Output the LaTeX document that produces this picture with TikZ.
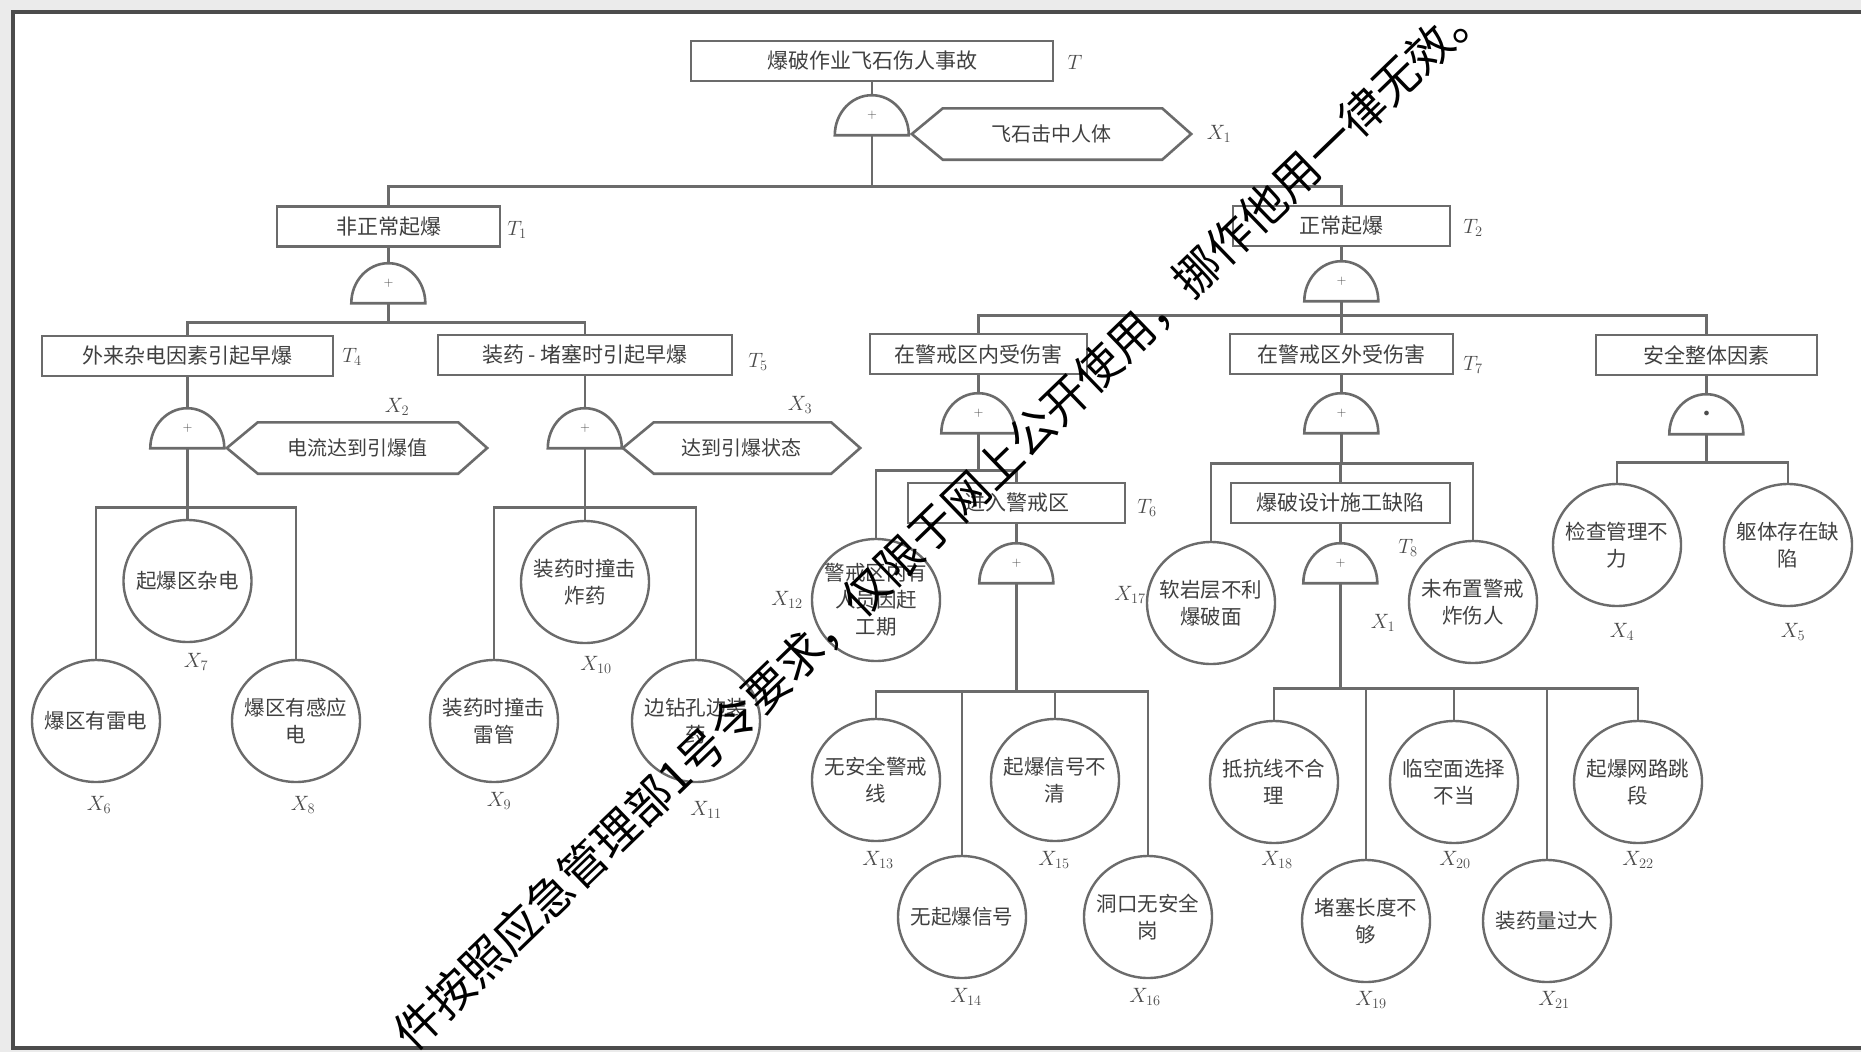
\documentclass[tikz,border=0pt]{standalone}
\usepackage{fontspec}
\newfontfamily\cjk{Noto Sans CJK SC}
\usetikzlibrary{shapes.geometric,calc}
\tikzset{
  ln/.style={draw=black!58, line width=2.6pt},
  box/.style={draw=black!58, line width=2.6pt, rectangle, minimum height=40pt, inner sep=0pt,
    font=\cjk\fontsize{21}{26}\selectfont, text=black!75},
  leaf/.style={ellipse, draw=black!58, line width=2.4pt, minimum width=128pt, minimum height=122pt,
    inner sep=-30pt, align=center, font=\cjk\fontsize{20.5}{27}\selectfont, text=black!75},
  gatenode/.style={minimum width=74pt, minimum height=40pt, inner sep=0pt,
    font=\fontsize{13}{13}\selectfont, text=black!70},
  cond/.style={minimum height=51pt, inner sep=0pt, font=\cjk\fontsize{20}{26}\selectfont, text=black!75},
  lab/.style={font=\fontsize{20}{24}\selectfont, text=black!70},
}
\begin{document}
\begin{tikzpicture}[x=1pt,y=-1pt]
\useasboundingbox (0,0) rectangle (1861,1052);
\fill[black!8] (0,0) rectangle (1861,1052);
\fill[white] (13,12) rectangle (1861,1048);
\draw[black!70,line width=4pt] (1861,12) -- (13,12) -- (13,1048) -- (1861,1048);

% boxes
\node[box,minimum width=362pt] (T)  at (872,61)   {爆破作业飞石伤人事故};
\node[box,minimum width=223pt] (T1) at (388.5,226.5) {非正常起爆};
\node[box,minimum width=217pt] (T2) at (1341.5,226) {正常起爆};
\node[box,minimum width=291pt] (T4) at (187.5,356) {外来杂电因素引起早爆};
\node[box,minimum width=294pt] (T5) at (585,355)  {装药 - 堵塞时引起早爆};
\node[box,minimum width=217pt] (T6) at (978.5,354) {在警戒区内受伤害};
\node[box,minimum width=223pt] (T7) at (1341.5,354) {在警戒区外受伤害};
\node[box,minimum width=221pt] (T3) at (1706.5,355) {安全整体因素};
\node[box,minimum width=217pt] (TE) at (1016.5,503) {进入警戒区};
\node[box,minimum width=219pt] (T8) at (1340.5,503) {爆破设计施工缺陷};

% gates
\node[gatenode] (g0) at (872,115) {+};
\node[gatenode] (g1) at (388.5,283) {+};
\node[gatenode] (g2) at (1341.5,281) {+};
\node[gatenode] (g4) at (187.5,428) {+};
\node[gatenode] (g5) at (585,428) {+};
\node[gatenode] (g6) at (978.5,413) {+};
\node[gatenode] (g7) at (1341.5,413) {+};
\node[gatenode] (g3) at (1706.5,414) {$\bullet$};
\node[gatenode] (gE) at (1016.5,563) {+};
\node[gatenode] (g8) at (1340.5,563) {+};
\foreach \g in {g0,g1,g2,g4,g5,g6,g7,g3,gE,g8}
  \draw[ln] (\g.south west) arc[start angle=180,end angle=360,x radius=37,y radius=40] -- cycle;

% conditions
\node[cond,minimum width=279pt] (c1) at (1051.5,134) {飞石击中人体};
\node[cond,minimum width=260pt] (c2) at (357,448) {电流达到引爆值};
\node[cond,minimum width=237pt] (c3) at (741.5,448) {达到引爆状态};
\foreach \c in {c1,c2,c3}
  \draw[ln] (\c.west) -- ([xshift=31pt]\c.north west) -- ([xshift=-29pt]\c.north east) -- (\c.east)
    -- ([xshift=-29pt]\c.south east) -- ([xshift=31pt]\c.south west) -- cycle;

% leaves
\node[leaf] (X7)  at (187.5,581) {起爆区杂电};
\node[leaf] (X6)  at (96,721)  {爆区有雷电};
\node[leaf] (X8)  at (296,721) {爆区有感应\\电};
\node[leaf] (X10) at (585,582) {装药时撞击\\炸药};
\node[leaf] (X9)  at (494,721) {装药时撞击\\雷管};
\node[leaf] (X11) at (696,721) {边钻孔边装\\药};
\node[leaf] (X12) at (876,600) {警戒区内有\\人员因赶\\工期};
\node[leaf] (X13) at (876,780) {无安全警戒\\线};
\node[leaf] (X14) at (962,917) {无起爆信号};
\node[leaf] (X15) at (1055,780) {起爆信号不\\清};
\node[leaf] (X16) at (1148,917) {洞口无安全\\岗};
\node[leaf] (X17) at (1211,603) {软岩层不利\\爆破面};
\node[leaf] (Xr)  at (1473,602) {未布置警戒\\炸伤人};
\node[leaf] (X18) at (1274,782) {抵抗线不合\\理};
\node[leaf] (X19) at (1366,921) {堵塞长度不\\够};
\node[leaf] (X20) at (1454,782) {临空面选择\\不当};
\node[leaf] (X21) at (1547,921) {装药量过大};
\node[leaf] (X22) at (1638,782) {起爆网路跳\\段};
\node[leaf] (X4)  at (1617,545) {检查管理不\\力};
\node[leaf] (X5)  at (1788,545) {躯体存在缺\\陷};

% connectors
\draw[ln] (T.south) -- (g0.north);
\draw[ln] (g0.south) -- ++(0,51) -| (T1.north);
\draw[ln] (g0.south) -- ++(0,51) -| (T2.north);
\draw[ln] (T1.south) -- (g1.north);
\draw[ln] (T2.south) -- (g2.north);
\draw[ln] (g1.south) -- ++(0,19) -| (T4.north);
\draw[ln] (g1.south) -- ++(0,19) -| (T5.north);
\draw[ln] (g2.south) -- ++(0,14) -| (T6.north);
\draw[ln] (g2.south) -- ++(0,14) -| (T7.north);
\draw[ln] (g2.south) -- ++(0,14) -| (T3.north);
\draw[ln] (T4.south) -- (g4.north);
\draw[ln] (T5.south) -- (g5.north);
\draw[ln] (T6.south) -- (g6.north);
\draw[ln] (T7.south) -- (g7.north);
\draw[ln] (T3.south) -- (g3.north);
\foreach \x in {X6,X7,X8} \draw[ln] (g4.south) -- ++(0,59) -| (\x.north);
\foreach \x in {X9,X10,X11} \draw[ln] (g5.south) -- ++(0,59) -| (\x.north);
\foreach \x in {X12,TE} \draw[ln] (g6.south) -- ++(0,37) -| (\x.north);
\draw[ln] (TE.south) -- (gE.north);
\foreach \x in {X13,X14,X15,X16} \draw[ln] (gE.south) -- ++(0,108) -| (\x.north);
\foreach \x in {X17,T8,Xr} \draw[ln] (g7.south) -- ++(0,30) -| (\x.north);
\draw[ln] (T8.south) -- (g8.north);
\foreach \x in {X18,X19,X20,X21,X22} \draw[ln] (g8.south) -- ++(0,105) -| (\x.north);
\foreach \x in {X4,X5} \draw[ln] (g3.south) -- ++(0,28) -| (\x.north);

% labels
\node[lab] (lT)  at (1075,62)  {$T$};
\node[lab] (lT1) at (517,230)  {$T_1$};
\node[lab] (lT2) at (1473,228) {$T_2$};
\node[lab] (lT4) at (352,357)  {$T_4$};
\node[lab] (lT5) at (758,362)  {$T_5$};
\node[lab] (lT7) at (1473,365) {$T_7$};
\node[lab] (lTE) at (1147,508) {$T_6$};
\node[lab] (lT8) at (1408,548) {$T_8$};
\node[lab] (lX1) at (1219,134) {$X_1$};
\node[lab] (lX2) at (397,407)  {$X_2$};
\node[lab] (lX3) at (800,405)  {$X_3$};
\node[lab] (lX7) at (196,662)  {$X_7$};
\node[lab] (lX6) at (99,805)   {$X_6$};
\node[lab] (lX8) at (303,805)  {$X_8$};
\node[lab] (lX10) at (596,665) {$X_{10}$};
\node[lab] (lX9) at (499,801)  {$X_9$};
\node[lab] (lX11) at (706,810) {$X_{11}$};
\node[lab] (lX12) at (787,600) {$X_{12}$};
\node[lab] (lX13) at (878,860) {$X_{13}$};
\node[lab] (lX15) at (1054,860) {$X_{15}$};
\node[lab] (lX14) at (966,997) {$X_{14}$};
\node[lab] (lX16) at (1145,997) {$X_{16}$};
\node[lab] (lX17) at (1130,595) {$X_{17}$};
\node[lab] (lXr) at (1383,623) {$X_1$};
\node[lab] (lX18) at (1277,860) {$X_{18}$};
\node[lab] (lX20) at (1455,860) {$X_{20}$};
\node[lab] (lX22) at (1638,860) {$X_{22}$};
\node[lab] (lX19) at (1371,1000) {$X_{19}$};
\node[lab] (lX21) at (1554,1000) {$X_{21}$};
\node[lab] (lX4) at (1622,632) {$X_4$};
\node[lab] (lX5) at (1793,632) {$X_5$};

% watermark
\node[rotate=44, font=\cjk\fontsize{46}{46}\selectfont, text=black, inner sep=0pt] (wm) at (940,521)
  {件按照应急管理部1号令要求，仅限于网上公开使用，挪作他用一律无效。};
\end{tikzpicture}
\end{document}
